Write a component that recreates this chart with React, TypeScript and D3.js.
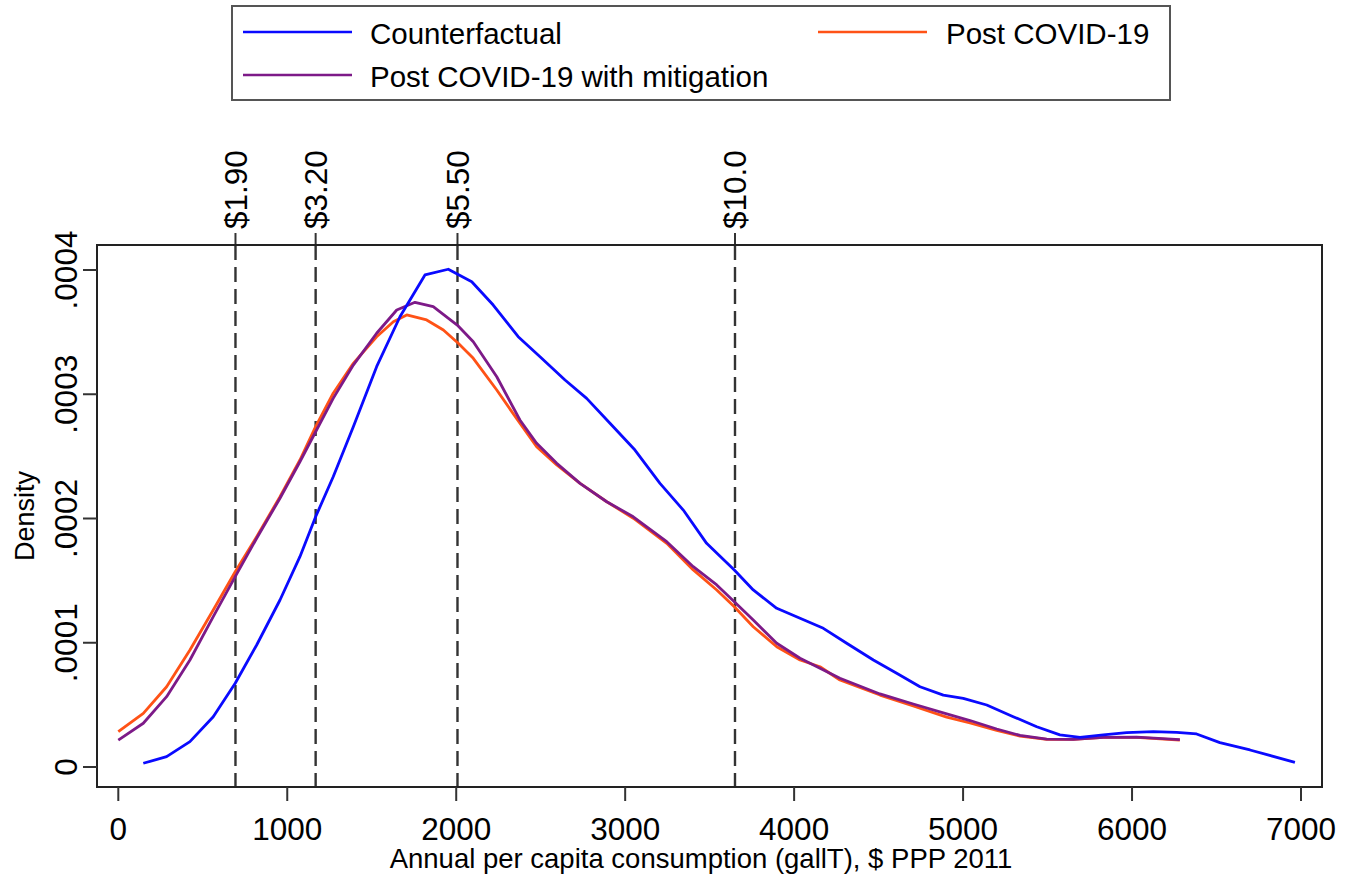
import React from "react";
import * as d3 from "d3";

// ---- Data ----
const counterfactualX = [148, 286, 424, 562, 692, 819, 957, 1075, 1168, 1272, 1391, 1529, 1667, 1815, 1953, 2092, 2219, 2367, 2496, 2644, 2772, 2910, 3058, 3206, 3344, 3482, 3646, 3758, 3897, 4035, 4173, 4311, 4469, 4607, 4745, 4883, 5001, 5140, 5297, 5436, 5573, 5692, 5830, 5968, 6126, 6264, 6382, 6520, 6698, 6964];
const counterfactualY = [0.0000030, 0.0000083, 0.0000204, 0.0000405, 0.0000674, 0.0000982, 0.0001344, 0.0001693, 0.0002014, 0.0002336, 0.0002739, 0.0003222, 0.0003624, 0.0003960, 0.0004006, 0.0003906, 0.0003718, 0.0003463, 0.0003302, 0.0003115, 0.0002967, 0.0002766, 0.0002551, 0.0002283, 0.0002068, 0.0001800, 0.0001586, 0.0001425, 0.0001277, 0.0001197, 0.0001116, 0.0000996, 0.0000861, 0.0000754, 0.0000646, 0.0000579, 0.0000553, 0.0000499, 0.0000405, 0.0000324, 0.0000258, 0.0000239, 0.0000258, 0.0000276, 0.0000284, 0.0000279, 0.0000266, 0.0000196, 0.0000137, 0.0000038];

const postX = [0, 148, 286, 424, 562, 692, 819, 957, 1075, 1168, 1272, 1391, 1529, 1628, 1707, 1825, 1924, 2012, 2101, 2240, 2377, 2476, 2595, 2733, 2891, 3048, 3246, 3403, 3542, 3646, 3758, 3897, 4035, 4153, 4271, 4508, 4705, 4903, 5041, 5199, 5337, 5495, 5652, 5830, 6027, 6283];
const postY = [0.0000284, 0.0000432, 0.0000646, 0.0000942, 0.0001264, 0.0001572, 0.0001854, 0.0002175, 0.0002471, 0.0002739, 0.0003008, 0.0003249, 0.0003463, 0.0003584, 0.0003638, 0.0003598, 0.0003517, 0.0003410, 0.0003289, 0.0003034, 0.0002766, 0.0002578, 0.0002431, 0.0002283, 0.0002135, 0.0002002, 0.0001800, 0.0001586, 0.0001425, 0.0001290, 0.0001129, 0.0000968, 0.0000861, 0.0000807, 0.0000700, 0.0000579, 0.0000491, 0.0000402, 0.0000354, 0.0000294, 0.0000249, 0.0000223, 0.0000223, 0.0000239, 0.0000239, 0.0000217];

const mitigX = [0, 148, 286, 424, 562, 692, 819, 957, 1075, 1168, 1272, 1391, 1529, 1648, 1756, 1864, 2006, 2101, 2240, 2377, 2476, 2595, 2733, 2891, 3048, 3246, 3403, 3542, 3646, 3758, 3897, 4035, 4271, 4508, 4705, 4903, 5041, 5199, 5337, 5495, 5652, 5830, 6027, 6283];
const mitigY = [0.0000217, 0.0000352, 0.0000566, 0.0000861, 0.0001210, 0.0001532, 0.0001841, 0.0002163, 0.0002457, 0.0002698, 0.0002967, 0.0003235, 0.0003491, 0.0003678, 0.0003740, 0.0003705, 0.0003557, 0.0003423, 0.0003141, 0.0002793, 0.0002605, 0.0002444, 0.0002283, 0.0002135, 0.0002014, 0.0001813, 0.0001612, 0.0001465, 0.0001330, 0.0001183, 0.0000996, 0.0000875, 0.0000714, 0.0000588, 0.0000507, 0.0000427, 0.0000374, 0.0000306, 0.0000254, 0.0000225, 0.0000223, 0.0000239, 0.0000241, 0.0000221];

const xTicks = [0, 1000, 2000, 3000, 4000, 5000, 6000, 7000];
const yTicks = [0, 0.0001, 0.0002, 0.0003, 0.0004];
const yTickLabels = ["0", ".0001", ".0002", ".0003", ".0004"];
const povertyLines = [693.5, 1168, 2007.5, 3650];
const povertyLabels = ["$1.90", "$3.20", "$5.50", "$10.0"];

const seriesNames = ["Counterfactual", "Post COVID-19", "Post COVID-19 with mitigation"];
const seriesColors = ["#0a0aff", "#ff5216", "#7d1a88"];

const FONT = "'Liberation Sans', Arial, sans-serif";

export default function App() {
  const W = 1356, H = 882;
  const frame = { left: 97, right: 1322, top: 245, bottom: 787 };
  const x = d3.scaleLinear().domain([0, 7000]).range([118.3, 1301]);
  const y = d3.scaleLinear().domain([0, 0.0004]).range([767, 270]);

  const line = d3.line<[number, number]>().x(d => x(d[0])).y(d => y(d[1])).curve(d3.curveLinear);
  const zip = (xs: number[], ys: number[]) => xs.map((v, i) => [v, ys[i]] as [number, number]);
  const series = [
    { name: seriesNames[1], color: seriesColors[1], pts: zip(postX, postY) },
    { name: seriesNames[2], color: seriesColors[2], pts: zip(mitigX, mitigY) },
    { name: seriesNames[0], color: seriesColors[0], pts: zip(counterfactualX, counterfactualY) },
  ];

  const tickFont = 31.5;
  const legendFont = 29.5;
  const midY = (frame.top + frame.bottom) / 2;

  return (
    <svg width={W} height={H} style={{ position: "absolute", left: 0, top: 0, background: "#fff" }} fontFamily={FONT}>
      <rect x={0} y={0} width={W} height={H} fill="#fff" />
      {/* Legend */}
      <rect x={232} y={6} width={938} height={94} fill="#fff" stroke="#555" strokeWidth={2} />
      <line x1={243} x2={352} y1={32} y2={32} stroke={seriesColors[0]} strokeWidth={2.6} />
      <text x={370} y={44} fontSize={legendFont}>{seriesNames[0]}</text>
      <line x1={818} x2={927} y1={32} y2={32} stroke={seriesColors[1]} strokeWidth={2.6} />
      <text x={946} y={44} fontSize={legendFont}>{seriesNames[1]}</text>
      <line x1={243} x2={352} y1={75} y2={75} stroke={seriesColors[2]} strokeWidth={2.6} />
      <text x={370} y={87} fontSize={legendFont}>{seriesNames[2]}</text>

      {/* Poverty lines */}
      {povertyLines.map((v, i) => (
        <g key={"pl" + i}>
          <line x1={x(v)} x2={x(v)} y1={frame.top} y2={frame.bottom} stroke="#333" strokeWidth={2.4} strokeDasharray="15 7" />
          <line x1={x(v)} x2={x(v)} y1={frame.top - 12} y2={frame.top} stroke="#333" strokeWidth={2} />
          <text transform={`translate(${x(v)},${frame.top - 16}) rotate(-90)`} dy="0.36em" fontSize={tickFont} textAnchor="start">{povertyLabels[i]}</text>
        </g>
      ))}

      {/* Curves */}
      <defs>
        <clipPath id="clip"><rect x={frame.left} y={frame.top} width={frame.right - frame.left} height={frame.bottom - frame.top} /></clipPath>
      </defs>
      <g clipPath="url(#clip)">
        {series.map(s => (
          <path key={s.name} d={line(s.pts) || ""} fill="none" stroke={s.color} strokeWidth={2.8} strokeLinejoin="round" />
        ))}
      </g>

      {/* Frame */}
      <rect x={frame.left} y={frame.top} width={frame.right - frame.left} height={frame.bottom - frame.top} fill="none" stroke="#222" strokeWidth={2} />

      {/* Y axis */}
      {yTicks.map((t, i) => (
        <g key={"yt" + i}>
          <line x1={frame.left - 14} x2={frame.left} y1={y(t)} y2={y(t)} stroke="#333" strokeWidth={2} />
          <text transform={`translate(${frame.left - 20},${y(t)}) rotate(-90)`} fontSize={tickFont} textAnchor="middle">{yTickLabels[i]}</text>
        </g>
      ))}
      <text transform={`translate(${34},${midY}) rotate(-90)`} fontSize={27} textAnchor="middle">Density</text>

      {/* X axis */}
      {xTicks.map((t, i) => (
        <g key={"xt" + i}>
          <line x1={x(t)} x2={x(t)} y1={frame.bottom} y2={frame.bottom + 14} stroke="#333" strokeWidth={2} />
          <text x={x(t)} y={840} fontSize={tickFont} textAnchor="middle">{String(t)}</text>
        </g>
      ))}
      <text x={701} y={868} fontSize={27.5} textAnchor="middle">Annual per capita consumption (gallT), $ PPP 2011</text>
    </svg>
  );
}
